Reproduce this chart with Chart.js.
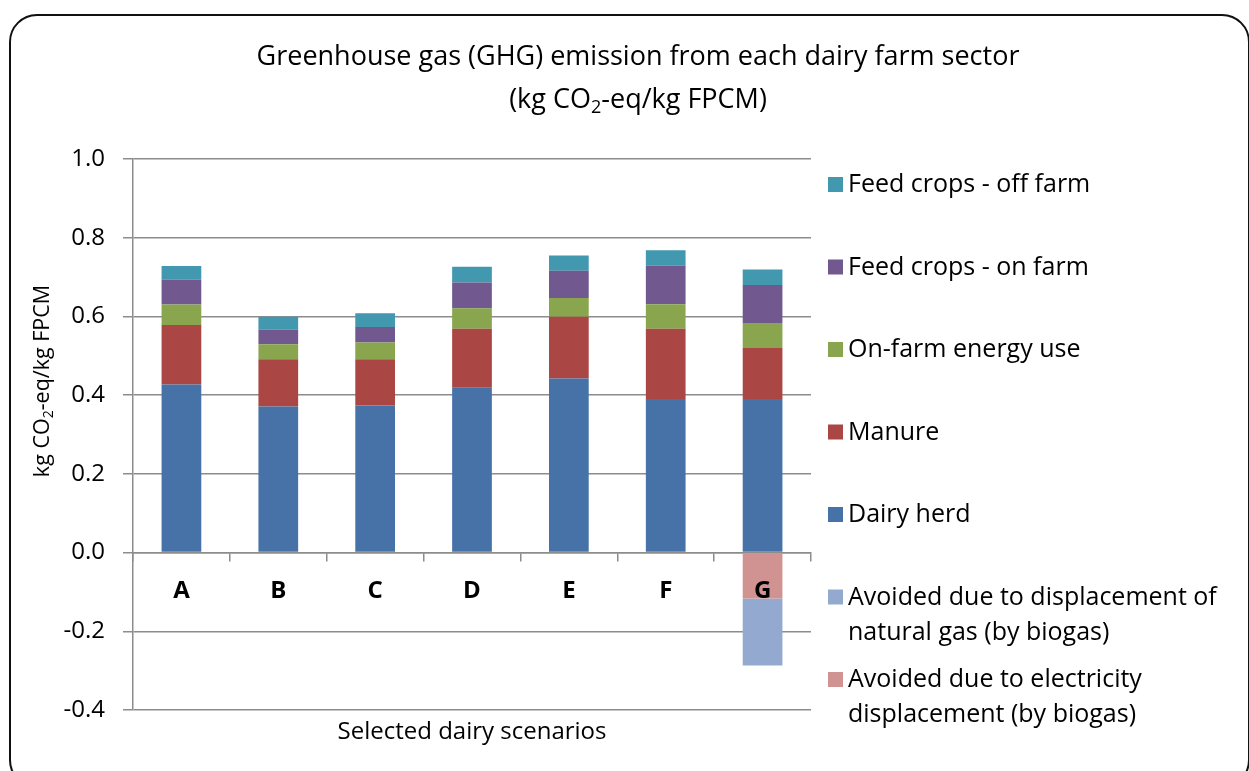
<!DOCTYPE html>
<html>
<head>
<meta charset="utf-8">
<script src="https://cdn.jsdelivr.net/npm/chart.js@4.4.1/dist/chart.umd.min.js"></script>
<style>
  html, body { margin: 0; padding: 0; background: #fff; overflow: hidden; }
  #wrap { position: relative; width: 1249px; height: 771px; }
  #frame {
    position: absolute; left: 9px; top: 14px; width: 1237px; height: 770px;
    border: 2.5px solid #111; border-radius: 28px; pointer-events: none;
  }
</style>
</head>
<body>
<div id="wrap">
  <canvas id="chart" width="1249" height="771"></canvas>
  <div id="frame"></div>
</div>
<script>
// scenarios on the x axis
var categories = ['A', 'B', 'C', 'D', 'E', 'F', 'G'];

// kg CO2-eq / kg FPCM
var dairyHerd   = [0.427, 0.371, 0.374, 0.419, 0.442, 0.390, 0.390];
var manure      = [0.151, 0.120, 0.117, 0.150, 0.157, 0.179, 0.130];
var energyUse   = [0.052, 0.038, 0.043, 0.052, 0.048, 0.062, 0.063];
var feedOnFarm  = [0.063, 0.037, 0.039, 0.065, 0.069, 0.098, 0.097];
var feedOffFarm = [0.035, 0.033, 0.035, 0.040, 0.039, 0.039, 0.039];
var avoidedElec = [null, null, null, null, null, null, -0.117];
var avoidedGas  = [null, null, null, null, null, null, -0.170];

var yTicks = [-0.4, -0.2, 0.0, 0.2, 0.4, 0.6, 0.8, 1.0];

var FONT = "'Open Sans', 'DejaVu Sans', sans-serif";

function ds(label, data, color) {
  return { label: label, data: data, backgroundColor: color, stack: 's',
           borderWidth: 0, barPercentage: 0.82, categoryPercentage: 0.5 };
}

var datasets = [
  ds('Dairy herd', dairyHerd, '#4672A8'),
  ds('Manure', manure, '#AA4643'),
  ds('On-farm energy use', energyUse, '#89A54E'),
  ds('Feed crops - on farm', feedOnFarm, '#71588F'),
  ds('Feed crops - off farm', feedOffFarm, '#4198AF'),
  ds('Avoided due to electricity displacement (by biogas)', avoidedElec, '#D19392'),
  ds('Avoided due to displacement of natural gas (by biogas)', avoidedGas, '#93A9CF')
];

// legend order top to bottom, with line breaks as in the picture
var legendOrder = [4, 3, 2, 1, 0, 6, 5];
var legendLines = {
  5: ['Avoided due to electricity', 'displacement (by biogas)'],
  6: ['Avoided due to displacement of', 'natural gas (by biogas)']
};

// text with a subscript "2" in the middle
function subText(ctx, parts, x, y, size, align) {
  ctx.font = size + 'px ' + FONT;
  var w1 = ctx.measureText(parts[0]).width, w3 = ctx.measureText(parts[2]).width;
  ctx.font = Math.round(size * 0.65) + 'px ' + FONT;
  var w2 = ctx.measureText(parts[1]).width;
  var x0 = align === 'center' ? x - (w1 + w2 + w3) / 2 : x;
  ctx.textAlign = 'left';
  ctx.font = size + 'px ' + FONT;
  ctx.fillText(parts[0], x0, y);
  ctx.font = Math.round(size * 0.65) + 'px ' + FONT;
  ctx.fillText(parts[1], x0 + w1, y + size * 0.28);
  ctx.font = size + 'px ' + FONT;
  ctx.fillText(parts[2], x0 + w1 + w2, y);
}

var decor = {
  id: 'decor',
  afterDraw: function(chart) {
    var ctx = chart.ctx, area = chart.chartArea;
    ctx.save();
    ctx.fillStyle = '#000';
    ctx.textBaseline = 'middle';

    // title
    ctx.font = '27px ' + FONT;
    ctx.textAlign = 'center';
    ctx.fillText('Greenhouse gas (GHG) emission from each dairy farm sector', 638, 57);
    subText(ctx, ['(kg CO', '2', '-eq/kg FPCM)'], 638, 100, 27, 'center');

    // y axis title
    ctx.save();
    ctx.translate(43, 381);
    ctx.rotate(-Math.PI / 2);
    subText(ctx, ['kg CO', '2', '-eq/kg FPCM'], 0, 0, 21.5, 'center');
    ctx.restore();

    // legend
    var lx = area.right + 17;
    ctx.font = '25px ' + FONT;
    ctx.textAlign = 'left';
    legendOrder.forEach(function(idx, i) {
      var d = chart.data.datasets[idx];
      var y = area.top + 26 + i * 82.5;
      ctx.fillStyle = d.backgroundColor;
      ctx.fillRect(lx, y - 8, 15, 15);
      ctx.fillStyle = '#000';
      var lines = legendLines[idx] || [d.label];
      lines.forEach(function(t, k) {
        ctx.fillText(t, lx + 20, y + k * 35);
      });
    });
    ctx.restore();
  }
};

new Chart(document.getElementById('chart'), {
  type: 'bar',
  data: { labels: categories, datasets: datasets },
  plugins: [decor],
  options: {
    responsive: false,
    animation: false,
    layout: { padding: { left: 20, top: 159, right: 438, bottom: 0 } },
    plugins: {
      legend: { display: false },
      title: { display: false },
      tooltip: { enabled: false }
    },
    scales: {
      x: {
        stacked: true,
        position: { y: 0 },
        grid: { drawOnChartArea: false, tickLength: 8, color: '#8c8c8c', lineWidth: 1.5 },
        border: { color: '#8c8c8c', width: 1.5 },
        ticks: { z: 1, padding: 16, color: '#000', font: { family: FONT, size: 24, weight: 'bold' } }
      },
      x2: {
        type: 'category',
        position: 'bottom',
        grid: { display: false, drawTicks: false },
        border: { display: false },
        ticks: { display: false },
        title: { display: true, text: 'Selected dairy scenarios', color: '#000',
                 font: { family: FONT, size: 24 }, padding: { top: 9, bottom: 24 } },
        afterFit: function(s) { s.height = 61; }
      },
      y: {
        stacked: true,
        min: -0.4,
        max: 1.0,
        afterBuildTicks: function(s) { s.ticks = yTicks.map(function(v) { return { value: v }; }); },
        grid: { color: '#8c8c8c', lineWidth: 1.5, tickLength: 10 },
        border: { color: '#8c8c8c', width: 1.5 },
        ticks: {
          padding: 18, color: '#000', font: { family: FONT, size: 24 },
          callback: function(v) { return Math.abs(v) < 1e-9 ? '0.0' : Number(v).toFixed(1); }
        },
        title: { display: false },
        afterFit: function(s) { s.width = 113; }
      }
    }
  }
});
</script>
</body>
</html>
